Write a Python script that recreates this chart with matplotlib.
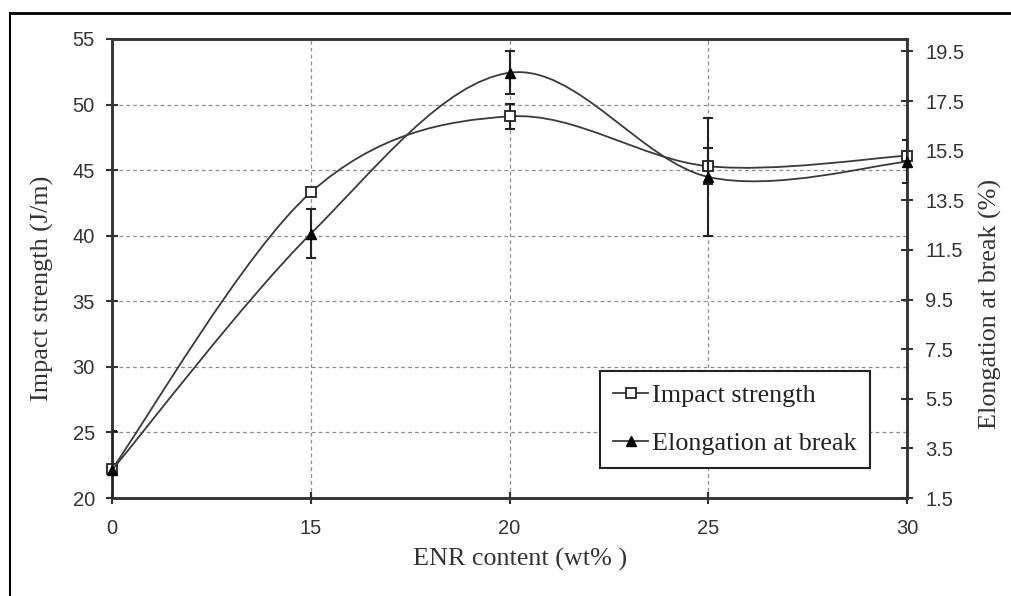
import numpy as np
import matplotlib
matplotlib.use("Agg")
import matplotlib.pyplot as plt
from matplotlib.path import Path
from matplotlib.patches import PathPatch
from matplotlib.lines import Line2D

# dados
enr = ["0", "15", "20", "25", "30"]
impacto = [22.2, 43.3, 49.1, 45.3, 46.1]
impacto_err = [0.0, 0.0, 0.95, 1.37, 0.0]
alongamento = [2.63, 12.15, 18.64, 14.44, 15.05]
alongamento_err = [1.57, 0.99, 0.87, 2.36, 0.87]

cor_linha = "#3a3a3a"
serif = "Liberation Serif"
sans = "Liberation Sans"


def curva_suave(ax, xs, ys, **kw):
    # curva tipo Excel: bezier cubica com pontos de controle Catmull-Rom
    pts = np.column_stack([xs, ys]).astype(float)
    n = len(pts)
    verts = [pts[0]]
    codes = [Path.MOVETO]
    for i in range(n - 1):
        p0 = pts[max(i - 1, 0)]
        p1 = pts[i]
        p2 = pts[i + 1]
        p3 = pts[min(i + 2, n - 1)]
        c1 = p1 + (p2 - p0) / 6.0
        c2 = p2 - (p3 - p1) / 6.0
        verts += [c1, c2, p2]
        codes += [Path.CURVE4] * 3
    patch = PathPatch(Path(verts, codes), facecolor="none", **kw)
    ax.add_patch(patch)
    return patch


x = np.arange(len(enr))

fig = plt.figure(figsize=(10.11, 5.96), dpi=100)
ax = fig.add_axes([112 / 1011, 98 / 596, 795 / 1011, 459 / 596])
ax2 = ax.twinx()

# impact strength (eixo esquerdo)
curva_suave(ax, x, impacto, edgecolor=cor_linha, lw=1.3, zorder=3)
ax.errorbar(x, impacto, yerr=impacto_err, fmt="none", ecolor="#222222",
            elinewidth=1.5, capsize=3.5, capthick=1.5, zorder=4)
ax.plot(x, impacto, ls="none", marker="s", ms=7, mfc="white", mec="#222222",
        mew=1.3, zorder=5, clip_on=False)

# elongation at break (eixo direito)
curva_suave(ax2, x, alongamento, edgecolor=cor_linha, lw=1.3, zorder=3)
ax2.errorbar(x, alongamento, yerr=alongamento_err, fmt="none", ecolor="#222222",
             elinewidth=1.5, capsize=3.5, capthick=1.5, zorder=4)
ax2.plot(x, alongamento, ls="none", marker="^", ms=7, mfc="black", mec="black",
         zorder=5, clip_on=False)

ax.set_xlim(0, 4)
ax.set_ylim(20, 55)
ax.set_yticks(np.arange(20, 56, 5))
ax2.set_ylim(1.5, 20.0)
ax2.set_yticks(np.arange(1.5, 20, 2))
ax.set_xticks(x)
ax.set_xticklabels(enr)

ax.grid(True, color="#8c8c8c", ls=(0, (3, 2.5)), lw=0.9)
ax.set_axisbelow(True)

for a in (ax, ax2):
    for s in a.spines.values():
        s.set_color("#333333")
        s.set_linewidth(1.8)
    a.tick_params(direction="inout", length=8.5, width=1.5, color="#333333",
                  labelsize=14.5, labelcolor="#333333")
    for lab in a.get_xticklabels() + a.get_yticklabels():
        lab.set_fontfamily(sans)
ax.tick_params(axis="y", pad=8)
ax.tick_params(axis="x", pad=11)
ax2.tick_params(axis="y", pad=9)

ax.set_xlabel("ENR content (wt% )", fontfamily=serif, fontsize=18.8,
              color="#333333")
ax.set_ylabel("Impact strength (J/m)", fontfamily=serif, fontsize=18.8,
              color="#333333")
ax2.set_ylabel("Elongation at break (%)", fontfamily=serif, fontsize=18.8,
               color="#333333")
ax.xaxis.set_label_coords(0.513, -0.108)
ax.yaxis.set_label_coords(-0.073, 0.4575)
ax2.yaxis.set_label_coords(1.09, 0.4227)

h1 = Line2D([], [], color=cor_linha, lw=1.3, marker="s", ms=7, mfc="white",
            mec="#222222", mew=1.3)
h2 = Line2D([], [], color=cor_linha, lw=1.3, marker="^", ms=7, mfc="black",
            mec="black")
leg = ax2.legend([h1, h2], ["Impact strength", "Elongation at break"],
                 loc="lower left", bbox_to_anchor=(0.614, 0.065),
                 prop={"family": serif, "size": 18.8}, frameon=True,
                 fancybox=False, framealpha=1, edgecolor="#222222",
                 handlelength=1.35, handletextpad=0.15, borderpad=0.5,
                 labelspacing=0.95, borderaxespad=0)
leg.get_frame().set_linewidth(1.5)
for t in leg.get_texts():
    t.set_color("#222222")

# moldura externa da figura
fig.add_artist(Line2D([10 / 1011, 1], [1 - 13 / 596, 1 - 13 / 596],
                      color="black", lw=2, transform=fig.transFigure))
fig.add_artist(Line2D([10 / 1011, 10 / 1011], [0, 1 - 13 / 596],
                      color="black", lw=1.5, transform=fig.transFigure))

plt.savefig("out.png", dpi=100)
